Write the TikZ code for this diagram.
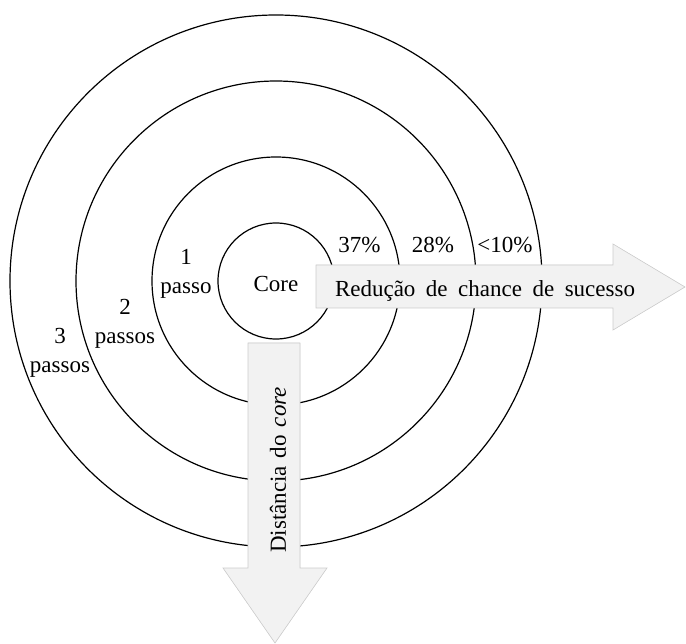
\documentclass[tikz,border=0pt]{standalone}
\usepackage{fontspec}
\setmainfont{Liberation Serif}
\definecolor{arrowfill}{RGB}{242,242,242}
\definecolor{arrowedge}{RGB}{205,205,205}
\begin{document}
\begin{tikzpicture}[x=1pt,y=-1pt,
  ring/.style={circle, draw=black, line width=1.2pt, inner sep=0pt, outer sep=0pt},
  lbl/.style={font=\fontsize{23}{29}\selectfont, inner sep=0pt, align=center},
  arrowshape/.style={fill=arrowfill, draw=arrowedge, line width=0.6pt},
  shadowlayer/.style={fill=black, opacity=0.06}]
\useasboundingbox (0,0) rectangle (686,644);

% concentric rings
\coordinate (ctr) at (276,281);
\node[ring, minimum size=116] (r1) at (ctr) {};
\node[ring, minimum size=248] (r2) at (ctr) {};
\node[ring, minimum size=400] (r3) at (ctr) {};
\node[ring, minimum size=532] (r4) at (ctr) {};

% outline points of the two broad arrows
\coordinate (ha1) at (316,265); \coordinate (ha2) at (613,265);
\coordinate (ha3) at (613,244); \coordinate (hat) at (685,287);
\coordinate (ha4) at (613,330); \coordinate (ha5) at (613,308);
\coordinate (ha6) at (316,308);
\coordinate (va1) at (248,343); \coordinate (va2) at (300,343);
\coordinate (va3) at (300,568); \coordinate (va4) at (327,568);
\coordinate (vat) at (275,643); \coordinate (va5) at (223,568);
\coordinate (va6) at (248,568);

% soft drop shadows
\foreach \d in {1,...,4} {
  \fill[shadowlayer, xshift=\d*0.9pt, yshift=-\d*1pt]
    (ha1) -- (ha2) -- (ha3) -- (hat) -- (ha4) -- (ha5) -- (ha6) -- cycle;
  \fill[shadowlayer, xshift=\d*0.9pt, yshift=-\d*1pt]
    (va1) -- (va2) -- (va3) -- (va4) -- (vat) -- (va5) -- (va6) -- cycle;
}

% arrows
\path[arrowshape] (ha1) -- (ha2) -- (ha3) -- (hat) -- (ha4) -- (ha5) -- (ha6) -- cycle;
\path[arrowshape] (va1) -- (va2) -- (va3) -- (va4) -- (vat) -- (va5) -- (va6) -- cycle;

% labels
\node[lbl, anchor=base] (core) at (276,292) {Core};
\node[lbl] (s1) at (186,274) {1\\passo};
\node[lbl] (s2) at (125,323.5) {2\\passos};
\node[lbl] (s3) at (60,352.5) {3\\passos};
\node[lbl, anchor=base] (p1) at (359.5,253) {37\%};
\node[lbl, anchor=base] (p2) at (433,253) {28\%};
\node[lbl, anchor=base] (p3) at (505,253) {<10\%};
\node[lbl, anchor=base] (hlab) at (485,297) {\spaceskip=10.5pt\relax Redução de chance de sucesso};
\node[lbl, rotate=90] (vlab) at (278,470) {\spaceskip=8pt\relax Distância do \textit{core}};
\end{tikzpicture}
\end{document}
